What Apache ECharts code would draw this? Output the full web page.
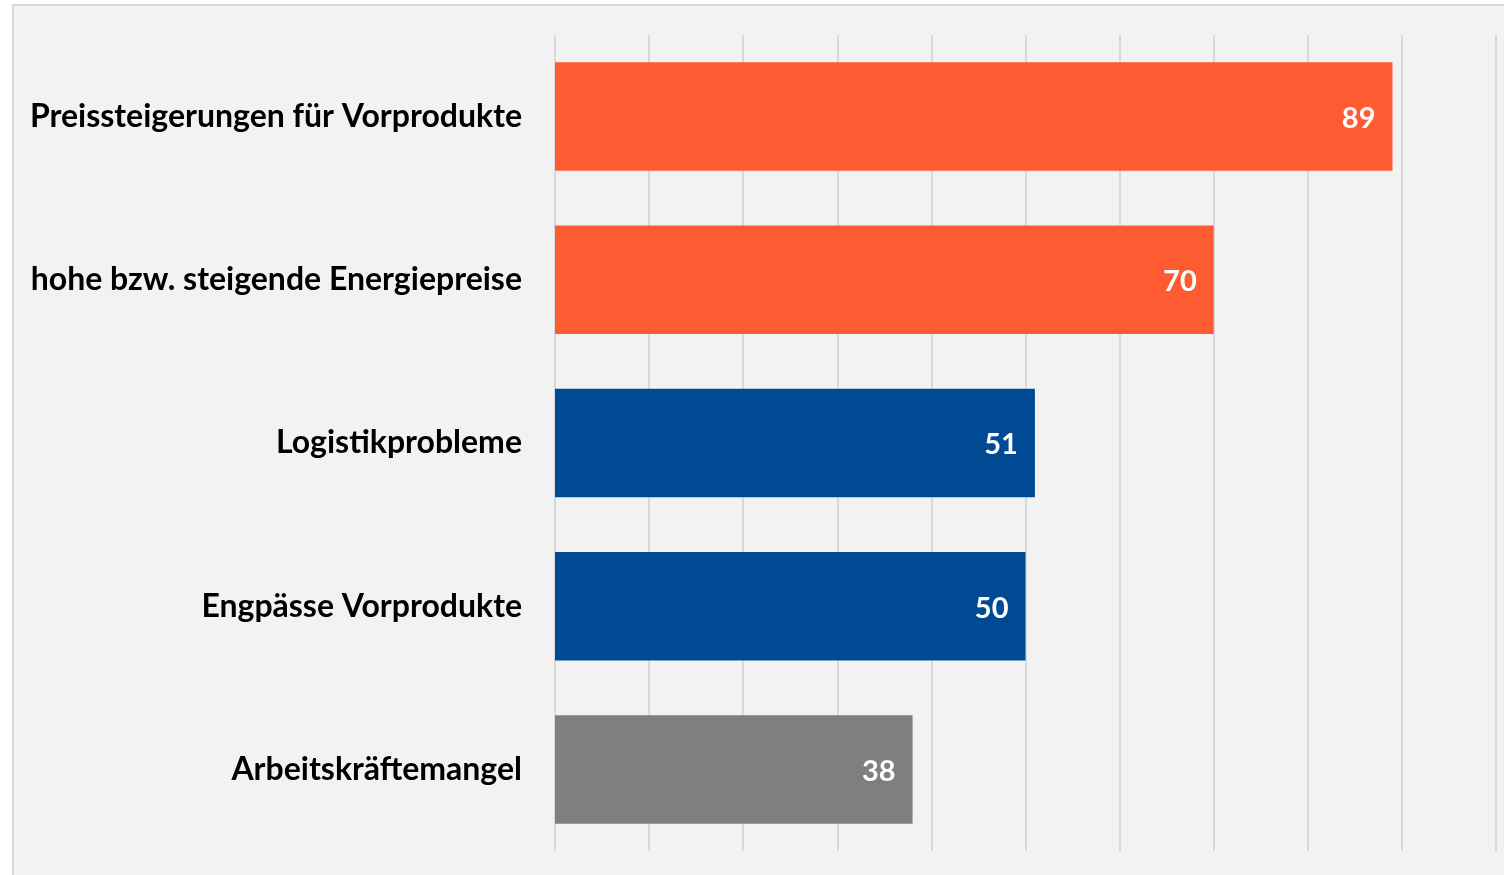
<!DOCTYPE html>
<html><head><meta charset="utf-8">
<script src="https://cdn.jsdelivr.net/npm/echarts@6/dist/echarts.min.js"></script>
<style>
html,body{margin:0;padding:0;background:#fff;overflow:hidden;}
#frame{position:absolute;left:12px;top:4px;width:1520px;height:900px;border:2px solid #d9d9d9;background:#f2f2f2;box-sizing:border-box;}
#chart{position:absolute;left:0;top:0;width:1504px;height:875px;}
</style></head>
<body>
<div id="frame"></div>
<div id="chart"></div>
<script>
const categories = ["Preissteigerungen für Vorprodukte","hohe bzw. steigende Energiepreise","Logistikprobleme","Engpässe Vorprodukte","Arbeitskräftemangel"];
const values = [89, 70, 51, 50, 38];
const barColors = ["#FF5B33","#FF5B33","#004A93","#004A93","#7F7F7F"];
const xTicks = [0,10,20,30,40,50,60,70,80,90,100];

const chart = echarts.init(document.getElementById('chart'), null, {renderer:'canvas'});
chart.setOption({
  animation:false,
  backgroundColor:'transparent',
  grid:{left:555,right:8,top:35,bottom:24,containLabel:false},
  xAxis:{type:'value',min:xTicks[0],max:xTicks[xTicks.length-1],interval:10,
    axisLabel:{show:false},axisLine:{show:false},axisTick:{show:false},
    splitLine:{show:true,lineStyle:{color:'#d9d9d9',width:2}}},
  yAxis:{type:'category',inverse:true,data:categories,
    axisLine:{show:false},axisTick:{show:false},
    axisLabel:{margin:33,color:'#000',fontFamily:'Lato',fontWeight:'bold',fontSize:32,padding:[0,0,3,0]}},
  series:[{type:'bar',barWidth:'66.5%',
    data:values.map((v,i)=>({value:v,itemStyle:{color:barColors[i]}})),
    label:{show:true,position:'insideRight',distance:17,offset:[0,2],color:'#fff',fontFamily:'Lato',fontWeight:'bold',fontSize:29}}]
});
</script>
</body></html>
